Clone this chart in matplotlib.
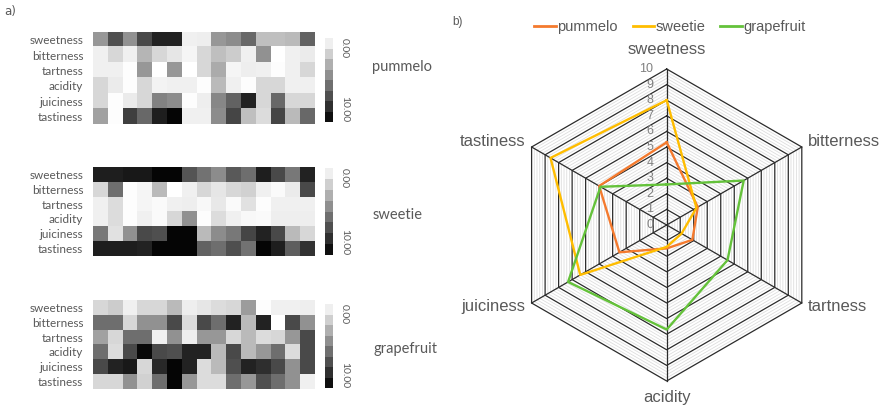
import numpy as np
import matplotlib.pyplot as plt
from matplotlib.lines import Line2D

# attributes (rows of the heatmaps / spokes of the radar)
attributes = ['sweetness', 'bitterness', 'tartness', 'acidity', 'juiciness', 'tastiness']
fruits = ['pummelo', 'sweetie', 'grapefruit']

# panel a) scores per panelist (15 columns), 0 = white, 10 = black
pummelo_scores = [
    [4.1, 6.9, 4.3, 7.1, 8.6, 8.6, 0.6, 0.7, 4.1, 4.5, 5.9, 2.5, 2.5, 2.7, 6.1],
    [0.6, 1.6, 0.6, 2.9, 1.6, 1.0, 0.4, 1.6, 2.5, 2.0, 0.6, 4.3, 0.0, 0.6, 0.8],
    [0.6, 0.6, 0.1, 4.1, 0.0, 4.1, 0.0, 1.6, 3.3, 0.4, 0.7, 0.6, 0.1, 0.6, 1.6],
    [1.6, 0.8, 0.1, 1.6, 0.5, 0.6, 0.6, 0.1, 2.7, 0.6, 0.1, 1.6, 1.6, 0.6, 0.6],
    [1.6, 0.1, 0.8, 1.6, 4.9, 4.5, 0.1, 0.7, 4.7, 6.1, 8.6, 1.6, 5.9, 1.6, 1.6],
    [3.7, 0.1, 7.5, 5.9, 8.8, 9.8, 0.6, 0.6, 4.5, 7.3, 2.5, 1.4, 7.3, 2.7, 5.9],
]
sweetie_scores = [
    [8.8, 8.8, 9.0, 9.0, 9.8, 9.8, 6.7, 5.5, 4.5, 6.5, 5.7, 8.8, 7.1, 5.3, 8.6],
    [1.6, 5.7, 0.1, 0.4, 2.7, 0.0, 0.6, 1.6, 1.0, 1.6, 1.8, 0.6, 0.2, 0.8, 7.1],
    [0.6, 1.4, 0.1, 0.4, 0.2, 0.6, 0.7, 0.3, 0.9, 0.2, 1.2, 0.1, 0.6, 0.6, 0.6],
    [0.6, 1.4, 0.1, 0.6, 0.2, 1.6, 4.3, 0.1, 1.4, 0.6, 0.3, 0.2, 0.7, 0.7, 0.7],
    [5.3, 1.2, 4.3, 7.1, 6.9, 9.8, 9.8, 2.7, 4.5, 5.3, 7.3, 8.6, 7.1, 2.7, 1.6],
    [8.8, 8.8, 8.8, 8.6, 9.8, 9.8, 9.8, 6.1, 5.7, 6.9, 5.5, 9.8, 8.8, 6.3, 8.0],
]
grapefruit_scores = [
    [1.6, 2.0, 0.6, 1.6, 1.6, 2.7, 0.7, 1.0, 1.4, 1.6, 3.9, 0.1, 0.6, 0.6, 0.7],
    [5.7, 5.7, 1.6, 4.3, 4.3, 7.1, 1.4, 7.1, 5.7, 8.6, 2.7, 8.6, 0.0, 7.1, 4.3],
    [3.7, 1.6, 5.7, 5.7, 0.6, 4.3, 0.7, 4.1, 4.1, 1.6, 2.7, 1.4, 1.6, 4.1, 7.1],
    [5.7, 1.4, 7.1, 9.6, 7.1, 6.9, 8.6, 8.6, 2.7, 7.1, 2.7, 4.1, 5.7, 1.4, 7.1],
    [7.1, 8.6, 9.0, 1.6, 8.4, 9.8, 8.6, 1.4, 2.7, 6.9, 8.6, 8.2, 7.1, 4.3, 7.1],
    [1.6, 1.6, 4.3, 1.8, 5.7, 9.8, 4.1, 1.4, 1.4, 5.7, 4.1, 6.9, 5.7, 4.3, 0.6],
]

# panel b) mean scores
pummelo_mean = [5.3, 2.3, 1.9, 1.5, 3.5, 5.0]
sweetie_mean = [8.0, 2.2, 1.1, 1.4, 6.4, 8.6]
grapefruit_mean = [2.6, 5.7, 4.5, 6.7, 7.3, 4.9]
radar_colors = ['#F47A2E', '#FFBD00', '#64C23A']

text_gray = '#595959'
W, H = 881, 405


def px_box(x0, y0, x1, y1):
    # pixel box (from top-left) -> figure fraction [left, bottom, width, height]
    return [x0 / W, 1 - y1 / H, (x1 - x0) / W, (y1 - y0) / H]


fig = plt.figure(figsize=(W / 100, H / 100), dpi=100)

# ---- panel a) heatmaps ----
heat_boxes = [(93, 32, 315, 124), (93, 167, 315, 256), (93, 300, 315, 389)]
cbar_boxes = [(325, 38, 333, 122), (325, 168, 333, 255), (325, 304, 333, 388)]
name_pos = [(402, 67), (398, 215), (405, 349)]
all_scores = [pummelo_scores, sweetie_scores, grapefruit_scores]

for scores, fruit, hb, cb, npos in zip(all_scores, fruits, heat_boxes, cbar_boxes, name_pos):
    ax = fig.add_axes(px_box(*hb))
    im = ax.imshow(np.array(scores), cmap='gray_r', vmin=0, vmax=10, aspect='auto',
                   interpolation='nearest')
    ax.set_xticks([])
    ax.set_yticks(range(len(attributes)))
    ax.set_yticklabels(attributes, fontsize=8.5, color=text_gray, family='Lato')
    ax.tick_params(axis='y', length=0, pad=7)
    for s in ax.spines.values():
        s.set_visible(False)

    # discrete colour scale next to each heatmap
    cax = fig.add_axes(px_box(*cb))
    cbar = fig.colorbar(im, cax=cax, boundaries=np.linspace(0, 10, 9))
    cbar.outline.set_visible(False)
    cax.invert_yaxis()
    cax.set_yticks([0, 10])
    cax.set_yticklabels(['0.00', '10.00'])
    cax.tick_params(length=0, pad=5, labelsize=7.5, labelcolor=text_gray)
    for lab, va in zip(cax.get_yticklabels(), ['top', 'bottom']):
        lab.set_rotation(270)
        lab.set_va(va)
        lab.set_family('Lato')

    fig.text(npos[0] / W, 1 - npos[1] / H, fruit, ha='center', va='center',
             fontsize=10.5, color=text_gray, family='Lato')

fig.text(10 / W, 1 - 12 / H, 'a)', ha='center', va='center', fontsize=8.5, color=text_gray)

# ---- panel b) radar chart ----
scale = 15.6          # pixels per score unit
cx, cy = 666.7, 225   # centre in pixels
ax_px = (466.7, 40, 866.7, 405)
rad = fig.add_axes(px_box(*ax_px))
rad.set_xlim((ax_px[0] - cx) / scale, (ax_px[2] - cx) / scale)
rad.set_ylim((cy - ax_px[3]) / scale, (cy - ax_px[1]) / scale)
rad.axis('off')

angles = np.deg2rad([90, 30, -30, -90, -150, 150])
ang_closed = np.append(angles, angles[0])

# light minor rings, then black major rings
for r in np.arange(0.2, 10.0, 0.2):
    if abs(r - round(r)) < 1e-6:
        continue
    rad.plot(r * np.cos(ang_closed), r * np.sin(ang_closed), color='#dedede', lw=0.6, zorder=1)
for r in range(1, 11):
    rad.plot(r * np.cos(ang_closed), r * np.sin(ang_closed), color='#2b2b2b', lw=0.9, zorder=2)
for a in angles:
    rad.plot([0, 10 * np.cos(a)], [0, 10 * np.sin(a)], color='#2b2b2b', lw=0.9, zorder=2)

# radial tick labels along the sweetness spoke
for r in range(0, 11):
    rad.text(-0.85, r, str(r), ha='right', va='center', fontsize=9, color='#808080',
             family='Liberation Sans', zorder=3)

means = [pummelo_mean, sweetie_mean, grapefruit_mean]
for vals, c in zip(means, radar_colors):
    v = np.append(vals, vals[0])
    rad.plot(v * np.cos(ang_closed), v * np.sin(ang_closed), color=c, lw=1.7, zorder=4)

# spoke labels
offsets = {'sweetness': (0, 0.75, 'center', 'bottom'),
           'bitterness': (0.4, 0.35, 'left', 'center'),
           'tartness': (0.4, -0.2, 'left', 'center'),
           'acidity': (0, -0.55, 'center', 'top'),
           'juiciness': (-0.4, -0.2, 'right', 'center'),
           'tastiness': (-0.4, 0.35, 'right', 'center')}
for name, a in zip(attributes, angles):
    dx, dy, ha, va = offsets[name]
    rad.text(10 * np.cos(a) + dx, 10 * np.sin(a) + dy, name, ha=ha, va=va,
             fontsize=12, color=text_gray, family='Liberation Sans')

handles = [Line2D([], [], color=c, lw=2) for c in radar_colors]
fig.legend(handles, fruits, loc='center', bbox_to_anchor=(670 / W, 1 - 27 / H), ncol=3,
           frameon=False, handlelength=1.5, handletextpad=0.1, columnspacing=1.0,
           prop={'family': 'Liberation Sans', 'size': 10.5}, labelcolor=text_gray)

fig.text(458 / W, 1 - 22 / H, 'b)', ha='center', va='center', fontsize=8.5, color=text_gray,
         family='Liberation Sans')

plt.savefig('out.png', dpi=100)
